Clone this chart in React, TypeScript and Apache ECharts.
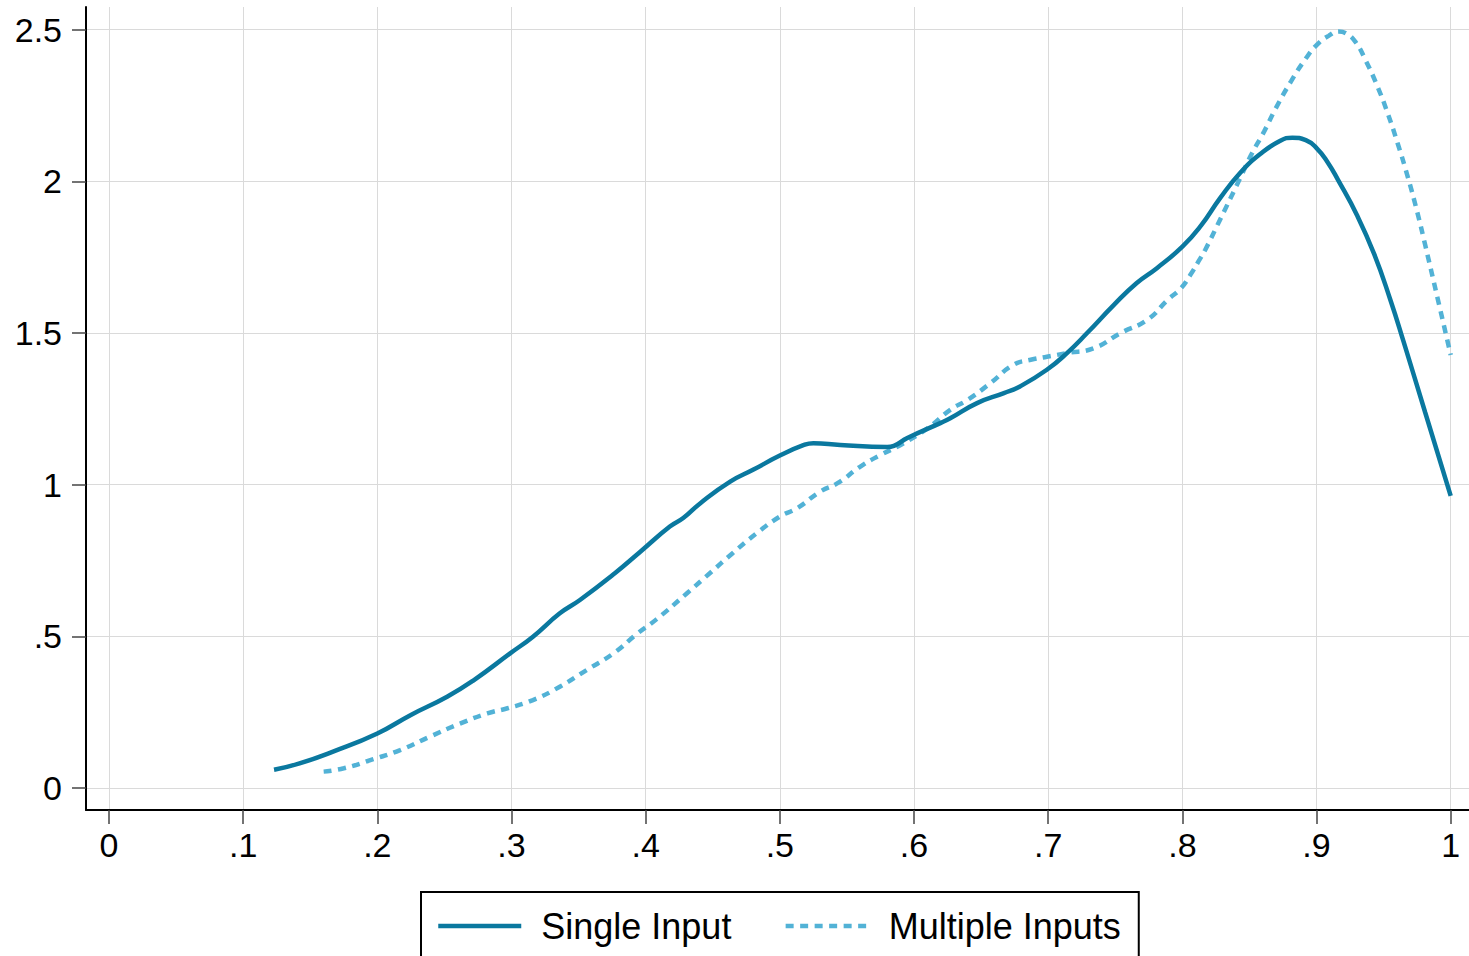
import React, { useEffect, useRef } from "react";
import * as echarts from "echarts";

const singleX = [0.123, 0.142, 0.167, 0.2, 0.225, 0.252, 0.272, 0.299, 0.316, 0.336, 0.351, 0.377, 0.396, 0.418, 0.428, 0.441, 0.463, 0.48, 0.5, 0.518, 0.525, 0.545, 0.58, 0.585, 0.595, 0.62, 0.627, 0.647, 0.667, 0.679, 0.699, 0.714, 0.729, 0.749, 0.766, 0.781, 0.8, 0.814, 0.828, 0.843, 0.858, 0.873, 0.882, 0.892, 0.9, 0.908, 0.916, 0.93, 0.943, 0.955, 0.965, 0.981, 1.0];
const singleY = [0.06, 0.081, 0.12, 0.18, 0.241, 0.301, 0.356, 0.444, 0.499, 0.576, 0.62, 0.708, 0.779, 0.862, 0.89, 0.94, 1.01, 1.049, 1.096, 1.131, 1.137, 1.131, 1.124, 1.128, 1.154, 1.204, 1.219, 1.269, 1.302, 1.324, 1.379, 1.434, 1.5, 1.593, 1.665, 1.714, 1.785, 1.855, 1.944, 2.028, 2.09, 2.134, 2.144, 2.136, 2.11, 2.065, 2.005, 1.89, 1.76, 1.61, 1.47, 1.238, 0.963];

const multiX = [0.16, 0.175, 0.197, 0.217, 0.239, 0.262, 0.282, 0.297, 0.316, 0.336, 0.356, 0.376, 0.394, 0.408, 0.431, 0.448, 0.465, 0.483, 0.5, 0.513, 0.53, 0.543, 0.56, 0.575, 0.59, 0.61, 0.627, 0.64, 0.657, 0.674, 0.687, 0.699, 0.714, 0.734, 0.754, 0.774, 0.789, 0.799, 0.806, 0.812, 0.817, 0.828, 0.843, 0.851, 0.861, 0.8695, 0.881, 0.892, 0.9006, 0.909, 0.9165, 0.922, 0.929, 0.9365, 0.9455, 0.953, 0.9605, 0.968, 0.975, 0.981, 0.991, 1.0];
const multiY = [0.054, 0.065, 0.095, 0.125, 0.169, 0.213, 0.246, 0.263, 0.29, 0.334, 0.389, 0.444, 0.51, 0.556, 0.643, 0.709, 0.775, 0.841, 0.895, 0.923, 0.977, 1.005, 1.06, 1.098, 1.131, 1.186, 1.247, 1.28, 1.335, 1.395, 1.412, 1.422, 1.434, 1.45, 1.5, 1.544, 1.609, 1.648, 1.692, 1.736, 1.774, 1.873, 2.01, 2.085, 2.165, 2.24, 2.33, 2.405, 2.452, 2.48, 2.494, 2.488, 2.46, 2.4, 2.312, 2.225, 2.125, 2.015, 1.9, 1.79, 1.6, 1.428];

const xTicks = [0, 0.1, 0.2, 0.3, 0.4, 0.5, 0.6, 0.7, 0.8, 0.9, 1];
const yTicks = [0, 0.5, 1, 1.5, 2, 2.5];
const seriesNames = ["Single Input", "Multiple Inputs"];

const FONT = "'Liberation Sans', Arial, Helvetica, sans-serif";
const SOLID = "#0a789f";
const DASHED = "#52b2d6";
const DASH = [8, 6.5];
const LW = 4.5;
const fmt = (v: number) => {
  const s = String(Math.round(v * 1000) / 1000);
  return s.replace(/^0\./, ".");
};

export default function App() {
  const ref = useRef<HTMLDivElement>(null);
  useEffect(() => {
    if (!ref.current) return;
    const chart = echarts.init(ref.current, null, { renderer: "svg" });
    const axisCommon = {
      axisLine: { show: true, onZero: false, lineStyle: { color: "#000", width: 2 } },
      axisTick: { show: true, length: 14, lineStyle: { color: "#444", width: 1.5 } },
      splitLine: { show: true, lineStyle: { color: "#dadada", width: 1 } },
    };
    chart.setOption({
      animation: false,
      backgroundColor: "#fff",
      textStyle: { fontFamily: FONT },
      grid: { left: 86, right: 0, top: 7, bottom: 146, containLabel: false },
      xAxis: {
        type: "value",
        min: -0.01714,
        max: 1.01364,
        ...axisCommon,
        axisTick: { ...axisCommon.axisTick, customValues: xTicks },
        axisLabel: {
          customValues: xTicks,
          formatter: fmt,
          fontSize: 34,
          color: "#000",
          fontFamily: FONT,
          margin: 18,
        },
      },
      yAxis: {
        type: "value",
        min: -0.0725,
        max: 2.575,
        ...axisCommon,
        axisTick: { ...axisCommon.axisTick, customValues: yTicks },
        axisLabel: {
          customValues: yTicks,
          formatter: fmt,
          fontSize: 34,
          color: "#000",
          fontFamily: FONT,
          margin: 24,
        },
      },
      legend: {
        show: true,
        left: 421,
        top: 892,
        orient: "horizontal",
        itemWidth: 83,
        itemHeight: 14,
        itemGap: 52,
        padding: [16, 18, 16, 15],
        borderColor: "#000",
        borderWidth: 2,
        itemStyle: { opacity: 0 },
        data: [
          { name: seriesNames[0], lineStyle: { width: LW, color: SOLID } },
          { name: seriesNames[1], lineStyle: { width: LW, color: DASHED, type: DASH } },
        ],
        textStyle: { fontSize: 36, color: "#000", fontFamily: FONT, padding: [0, 0, 0, 15] },
      },
      series: [
        {
          name: seriesNames[0],
          type: "line",
          data: singleX.map((x, i) => [x, singleY[i]]),
          showSymbol: false,
          symbol: "none",
          smooth: 0.5,
          lineStyle: { color: SOLID, width: LW },
          itemStyle: { color: SOLID },
          z: 3,
        },
        {
          name: seriesNames[1],
          type: "line",
          data: multiX.map((x, i) => [x, multiY[i]]),
          showSymbol: false,
          symbol: "none",
          smooth: 0.5,
          lineStyle: { color: DASHED, width: LW, type: DASH, cap: "butt" },
          itemStyle: { color: DASHED },
          z: 2,
        },
      ],
    });
    return () => chart.dispose();
  }, []);
  return (
    <div
      ref={ref}
      style={{ position: "fixed", left: 0, top: 0, width: 1469, height: 956, background: "#fff" }}
    />
  );
}
